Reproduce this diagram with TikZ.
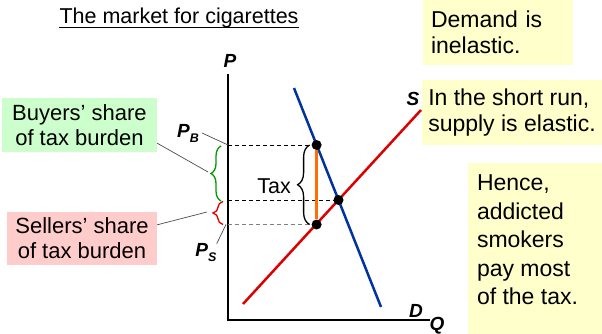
\documentclass[tikz,border=0pt]{standalone}
\usepackage{fontspec}
\setmainfont{Liberation Sans}
\usepackage{xcolor}
\usetikzlibrary{decorations.pathreplacing}
\newcommand{\FT}{\fontsize{21.5}{26}\selectfont}
\newcommand{\FN}{\fontsize{23}{26}\selectfont}
\newcommand{\FB}{\fontsize{22}{25}\selectfont}
\newcommand{\FH}{\fontsize{23}{28.5}\selectfont}
\newcommand{\FE}{\fontsize{19}{22}\selectfont\bfseries\itshape}
\newcommand{\FS}{\fontsize{12.5}{14}\selectfont\bfseries\itshape}
\definecolor{amarillo}{RGB}{255,255,204}
\definecolor{verdec}{RGB}{204,255,204}
\definecolor{rosa}{RGB}{255,204,204}
\definecolor{azul}{RGB}{0,51,160}
\definecolor{rojo}{RGB}{220,0,0}
\definecolor{naranja}{RGB}{255,110,0}
\definecolor{verde}{RGB}{0,155,0}

\begin{document}
\begin{tikzpicture}[x=1pt,y=-1pt]
\tikzstyle{texto}=[inner sep=0pt,font=\FT]
\tikzstyle{letra}=[inner sep=0pt,font=\FE]
\tikzstyle{caja}=[draw=none,inner sep=0pt]
\tikzstyle{curva}=[line width=2.5pt]
\tikzstyle{guia}=[dash pattern=on 4pt off 3pt,line width=1pt]
\tikzstyle{punto}=[circle,fill=black,inner sep=0pt,minimum size=10pt]
\tikzstyle{llave}=[decorate,line width=1.3pt]
\tikzstyle{fina}=[black!70,line width=0.7pt]

\useasboundingbox (0,0) rectangle (602,334);

% title
\node[texto,anchor=base] (titulo) at (179,24) {The market for cigarettes};
\draw[line width=1pt] ([yshift=-4pt]titulo.base west) -- ([yshift=-4pt]titulo.base east);

% axes
\coordinate (ytop) at (228,74);
\coordinate (o) at (228,320);
\coordinate (xend) at (430,320);
\draw[line width=1.2pt] (ytop) -- (o) -- (xend);
\node[letra] (pl) at (230,61) {P};
\node[letra] (ql) at (437,326) {Q};

% supply and demand
\coordinate (d1) at (294,88);
\coordinate (d2) at (381,307);
\coordinate (s1) at (243,304);
\coordinate (s2) at (421,110);
\draw[curva,azul] (d1) -- (d2);
\draw[curva,rojo] (s1) -- (s2);
\node[letra] (dl) at (416,311) {D};
\node[letra] (sl) at (413,99) {S};

% prices
\node[punto] (pb) at (316.6,145) {};
\node[punto] (eq) at (338.5,200) {};
\node[punto] (ps) at (316.6,224.5) {};
\coordinate (ypb) at (228,145);
\coordinate (yeq) at (228,200);
\coordinate (yps) at (228,224.5);
\draw[guia] (ypb) -- (pb);
\draw[guia] (yeq) -- (eq);
\draw[guia,gray] (yps) -- (ps);
\draw[naranja,line width=3pt] (pb) -- (ps);

% tax brace
\draw[llave,decoration={brace,amplitude=12pt}] ([xshift=-7pt]ps.center) -- ([xshift=-7pt]pb.center);
\node[texto] (tax) at (274,186) {Tax};

% shares
\draw[llave,verde,decoration={brace,amplitude=10pt}] ([xshift=-7pt,yshift=-1pt]yeq) -- ([xshift=-7pt,yshift=-1pt]ypb);
\draw[llave,rojo,decoration={brace,amplitude=10pt}] ([xshift=-5pt]yps) -- ([xshift=-5pt,yshift=-1.5pt]yeq);
\coordinate (gtip) at (208,172);
\coordinate (rtip) at (207,212);

\node[caja,fill=verdec,minimum width=155pt,minimum height=54pt,align=center,font=\FB] (buyers) at (79.5,125) {Buyers’ share\\of tax burden};
\node[caja,fill=rosa,minimum width=150pt,minimum height=53pt,align=center,font=\FB] (sellers) at (82,238.5) {Sellers’ share\\of tax burden};
\draw[fina] ([yshift=9pt]buyers.south east) -- (gtip);
\draw[fina] ([yshift=-13pt]sellers.north east) -- (rtip);

\node[letra] (pbl) at (188,133) {P\raisebox{-5pt}{\FS B}};
\node[letra] (psl) at (206,253) {P\raisebox{-5pt}{\FS S}};
\draw[fina] ([xshift=3pt]pbl.east) -- (ypb);
\draw[fina] (psl.north east) -- ([xshift=-2pt]yps);

% notes
\node[caja,fill=amarillo,minimum width=150pt,minimum height=65pt,text width=134pt,align=left,font=\FN] (demand) at (498,32.5) {Demand is\\inelastic.};
\node[caja,fill=amarillo,minimum width=180pt,minimum height=65pt,align=left,font=\FN] (short) at (512,112.5) {In the short run,\\supply is elastic.};
\node[caja,fill=amarillo,minimum width=134pt,minimum height=171pt] (hbox) at (535,248.5) {};
\node[texto,anchor=north west,align=left,font=\FH] (hence) at ([shift={(9pt,-12pt)}]hbox.north west) {Hence,\\addicted\\smokers\\pay most\\of the tax.};
\end{tikzpicture}
\end{document}
